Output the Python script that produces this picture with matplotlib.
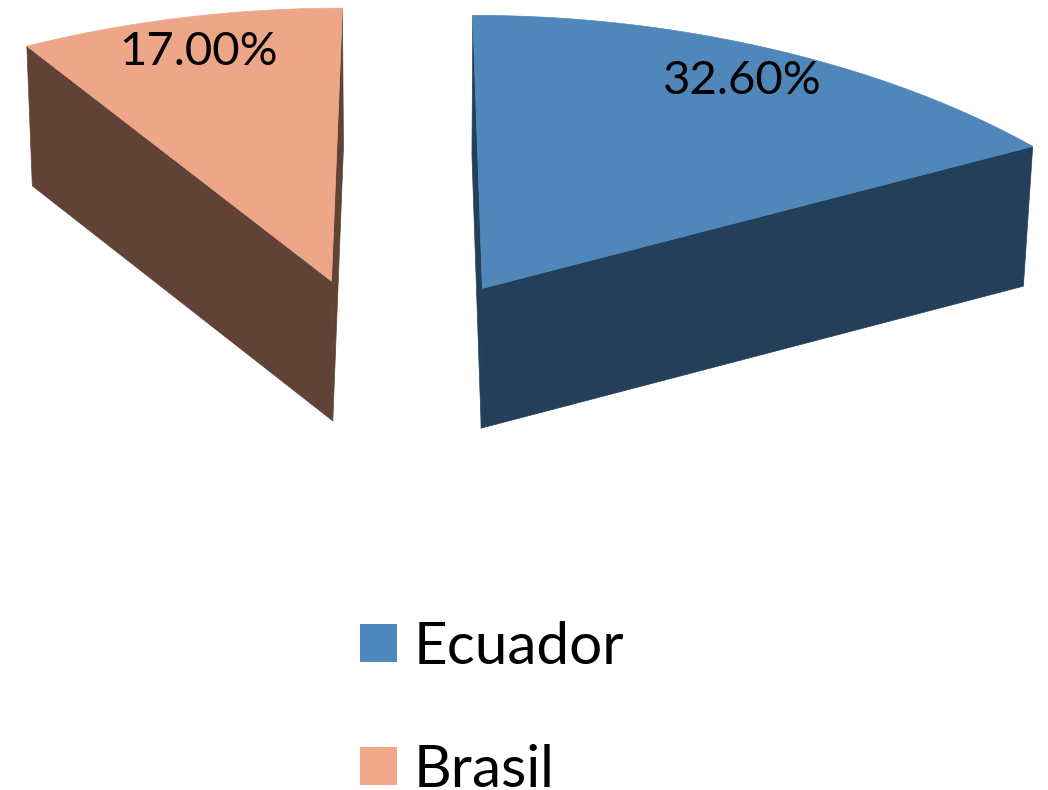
import numpy as np
import matplotlib
matplotlib.use('Agg')
import matplotlib.pyplot as plt
from matplotlib.patches import Polygon, Patch

# data
countries = ['Ecuador', 'Brasil']
shares = [32.6, 17.0]          # percent values shown on the slices
labels = ['32.60%', '17.00%']
pie_total = 200.0              # full-circle value (remaining slices are blank)
top_colors = ['#4F87BA', '#EDA687']
side_colors = ['#243F5A', '#604336']
legend_colors = ['#4F88BC', '#F0A889']

# 3d view settings
squash = 0.43     # sin of the view elevation
depth = 0.22      # thickness of the pie (screen units)
explode = 0.285
cam_dist = 5.5    # horizontal perspective strength
cam_x = 0.04
zoom_x = 1.05
n_arc = 120

plt.rcParams['font.family'] = ['Lato', 'DejaVu Sans']

fig = plt.figure(figsize=(10.48, 7.9), dpi=100)
ax = fig.add_axes([0, 0, 1, 1])
ax.set_xlim(-0.609, 1.041)
ax.set_ylim(-0.683, 0.561)
ax.set_aspect('equal')
ax.axis('off')

cos_e = np.sqrt(1 - squash ** 2)


def to_screen(x, yb, z):
    # x right, yb towards the back, z up (z=0 top face, z=-depth bottom)
    dist = cam_dist + yb * cos_e - z * squash
    k = zoom_x * (cam_dist + 0.6 * cos_e) / dist
    return cam_x + (x - cam_x) * k, squash * yb + z


def world(cx, cy, r, theta):
    # theta measured clockwise from 12 o'clock (back of pie)
    return cx + r * np.sin(theta), cy + r * np.cos(theta)


# slice angles: Ecuador clockwise from 12 o'clock, Brasil ends at 12 o'clock
angles = [s / pie_total * 2 * np.pi for s in shares]
spans = [(0.0, angles[0]), (-angles[1], 0.0)]

for i, (t0, t1) in enumerate(spans):
    mid = (t0 + t1) / 2
    cx, cy = world(0, 0, explode, mid)

    # cut faces along the two radii
    for t in (t0, t1):
        ex, ey = world(cx, cy, 1.0, t)
        face = [to_screen(cx, cy, 0), to_screen(ex, ey, 0),
                to_screen(ex, ey, -depth), to_screen(cx, cy, -depth)]
        ax.add_patch(Polygon(face, closed=True, facecolor=side_colors[i],
                             edgecolor=side_colors[i], lw=0.5, zorder=2))

    # outer wall (only the front half is visible)
    th = np.linspace(t0, t1, n_arc)
    front = th[np.cos(th) < 0]
    if len(front) > 1:
        wx, wy = world(cx, cy, 1.0, front)
        ux, uy = to_screen(wx, wy, 0)
        bx, by = to_screen(wx, wy, -depth)
        wall = np.column_stack([np.r_[ux, bx[::-1]], np.r_[uy, by[::-1]]])
        ax.add_patch(Polygon(wall, closed=True, facecolor=side_colors[i],
                             edgecolor=side_colors[i], lw=0.5, zorder=2))

    # top face
    wx, wy = world(cx, cy, 1.0, th)
    px, py = to_screen(np.r_[cx, wx], np.r_[cy, wy], 0)
    ax.add_patch(Polygon(np.column_stack([px, py]), closed=True,
                         facecolor=top_colors[i], edgecolor=top_colors[i],
                         lw=0.5, zorder=3))

    lx, ly = to_screen(*world(cx, cy, 0.87, mid), 0)
    ax.text(lx, ly, labels[i], fontsize=34, ha='center', va='center',
            color='black', zorder=4)

handles = [Patch(facecolor=c, edgecolor='none') for c in legend_colors]
ax.legend(handles, countries, loc='upper left', bbox_to_anchor=(0.316, 0.251),
          frameon=False, fontsize=42, handlelength=0.62, handleheight=0.62,
          handletextpad=0.3, labelspacing=1.2, borderpad=0)

fig.savefig('out.png', dpi=100)
